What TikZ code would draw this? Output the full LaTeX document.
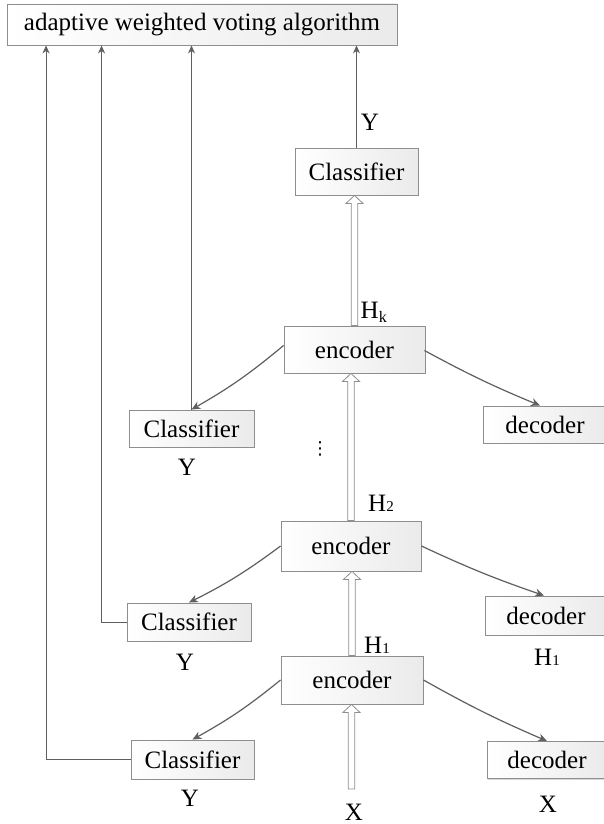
\documentclass[tikz,border=0pt]{standalone}
\usepackage{fontspec}
\setmainfont{Liberation Serif}
\newfontfamily\dvsans{DejaVu Sans}
\usetikzlibrary{arrows.meta,calc,shadows}
\definecolor{lncol}{HTML}{5F5F5F}
\definecolor{bxcol}{HTML}{8E8E8E}
\tikzset{
  box/.style={draw=bxcol, line width=0.9pt, left color=white, right color=black!8,
    inner sep=0pt, font=\fontsize{25}{29}\selectfont,
    drop shadow={shadow xshift=1.2pt, shadow yshift=-1.2pt, fill=black!25, opacity=0.6}},
  lbl/.style={font=\fontsize{25}{29}\selectfont, inner sep=0pt},
  conn/.style={draw=lncol, line width=1.2pt, -{Stealth[length=9pt,width=8pt]}},
  vote/.style={draw=lncol, line width=0.9pt, -{Stealth[length=8pt,width=7pt]}},
  hollow/.style={draw=bxcol, line width=0.8pt, fill=white},
}
\newcommand{\hollowarr}[2]{%
  \path[hollow] let \p1=#1, \p2=#2 in
    (\x1-3.3pt,\y1) -- (\x1-3.3pt,\y2-8pt) -- (\x1-8.5pt,\y2-8pt) -- (\x1,\y2)
    -- (\x1+8.5pt,\y2-8pt) -- (\x1+3.3pt,\y2-8pt) -- (\x1+3.3pt,\y1) -- cycle;}
\begin{document}
\begin{tikzpicture}[x=1pt,y=-1pt]
\useasboundingbox[fill=white] (0,0) rectangle (603,824);
% nodes
\node[box, minimum width=390pt, minimum height=41pt] (awv) at (202,24.5) {adaptive weighted voting algorithm};
\node[box, minimum width=123pt, minimum height=47pt] (clsT) at (356.5,171.5) {Classifier};
\node[box, minimum width=141pt, minimum height=47pt] (encK) at (354.5,349.5) {encoder};
\node[box, minimum width=125pt, minimum height=37pt] (clsK) at (191.5,428.5) {Classifier};
\node[box, minimum width=123pt, minimum height=37pt] (decK) at (545,424.5) {decoder};
\node[box, minimum width=140pt, minimum height=50pt] (enc2) at (351,546) {encoder};
\node[box, minimum width=124pt, minimum height=38pt] (cls2) at (189,622) {Classifier};
\node[box, minimum width=122pt, minimum height=39pt] (dec2) at (546,615.5) {decoder};
\node[box, minimum width=142pt, minimum height=48pt] (enc1) at (352,680) {encoder};
\node[box, minimum width=123pt, minimum height=39pt] (cls1) at (192.5,759.5) {Classifier};
\node[box, minimum width=120pt, minimum height=37pt] (dec1) at (547,760) {decoder};
% labels
\node[lbl] (yT) at (370,122) {Y};
\node[lbl] (hk) at (374,312) {H\textsubscript{\fontsize{16}{16}\selectfont k}};
\node[lbl] (yK) at (187,467) {Y};
\node[lbl] (dots) at (320,449) {\dvsans\fontsize{18}{18}\selectfont ⋮};
\node[lbl] (h2) at (381,503) {H{\fontsize{15}{15}\selectfont 2}};
\node[lbl] (y2) at (185,662) {Y};
\node[lbl] (h1d) at (547,657) {H{\fontsize{15}{15}\selectfont 1}};
\node[lbl] (h1) at (377,645) {H{\fontsize{15}{15}\selectfont 1}};
\node[lbl] (y1) at (190,798) {Y};
\node[lbl] (xin) at (354,812) {X};
\node[lbl] (xout) at (548,804) {X};
\coordinate (xbase) at (351.5,789);
% hollow arrows
\hollowarr{(xbase)}{(enc1.south)}
\hollowarr{(enc1.north)}{(enc2.south)}
\hollowarr{(enc2.north)}{(encK.south)}
\hollowarr{(encK.north)}{(clsT.south)}
% encoder to classifier/decoder connectors
\draw[conn] (encK.west) ++(0,-4) to[bend left=5] (clsK.north);
\draw[conn] (encK.east) ++(-1,1) to[bend right=3] ($(decK.north)+(-5,0)$);
\draw[conn] (enc2.west) to[bend left=5] (cls2.north);
\draw[conn] (enc2.east) to[bend right=3] ($(dec2.north)+(-2,0)$);
\draw[conn] (enc1.west) to[bend left=5] (cls1.north);
\draw[conn] (enc1.east) to[bend right=3] (dec1.north);
% voting connectors
\draw[vote] (clsT.north) -- (clsT.north |- awv.south);
\draw[vote] (clsK.north) -- (clsK.north |- awv.south);
\draw[vote] (cls2.west) -| ($(awv.south west)+(95,0)$);
\draw[vote] (cls1.west) -| ($(awv.south west)+(39.5,0)$);
\end{tikzpicture}
\end{document}
